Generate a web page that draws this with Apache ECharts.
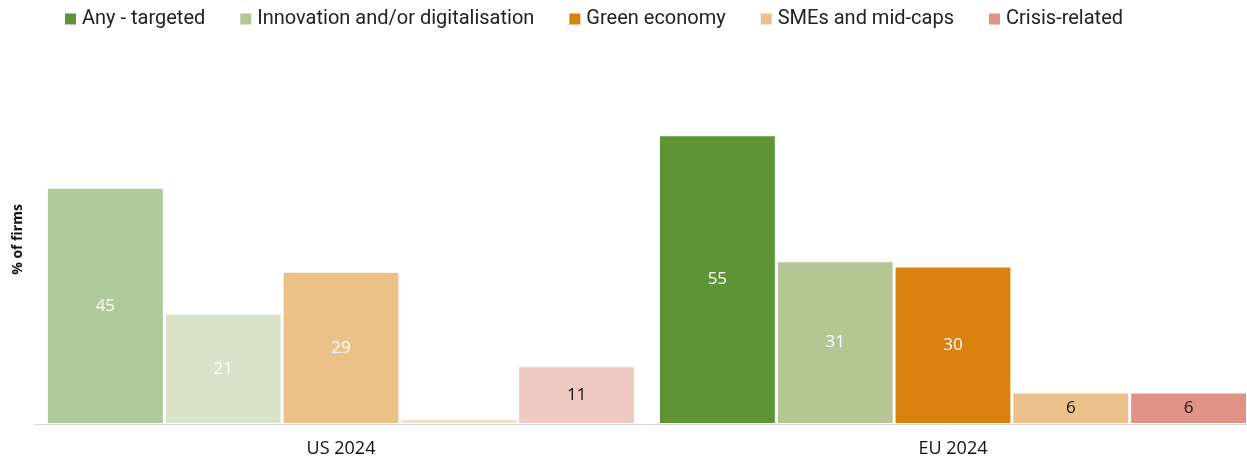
<!DOCTYPE html>
<html>
<head>
<meta charset="utf-8">
<script src="https://cdn.jsdelivr.net/npm/echarts@6/dist/echarts.min.js"></script>
<style>
  html, body { margin: 0; padding: 0; background: #fff; }
  #chart { width: 1247px; height: 461px; }
</style>
</head>
<body>
<div id="chart"></div>
<script>
// categories and values
const categories = ['US 2024', 'EU 2024']
const seriesNames = ['Any - targeted', 'Innovation and/or digitalisation', 'Green economy', 'SMEs and mid-caps', 'Crisis-related']
const anyTargeted = [45, 55]
const innovation = [21, 31]
const greenEconomy = [29, 30]
const smes = [1, 6]
const crisis = [11, 6]

const colors = ['#5e9434', '#b3c693', '#d9820f', '#ecc08a', '#e29387']
const labelColors = ['#fff', '#fff', '#fff', '#111', '#111']
const values = [anyTargeted, innovation, greenEconomy, smes, crisis]

// US bars are drawn as a lighter (half-way to white) version of the colour
function fade(hex) {
  const n = parseInt(hex.slice(1), 16)
  const c = [n >> 16, (n >> 8) & 255, n & 255].map(x => Math.round((x + 255) / 2))
  return 'rgb(' + c.join(',') + ')'
}

const chart = echarts.init(document.getElementById('chart'))

const series = values.map((vals, s) => ({
  name: seriesNames[s],
  type: 'bar',
  barGap: '0.8%',
  barCategoryGap: '3.9%',
  itemStyle: { color: colors[s], borderColor: '#fff', borderWidth: 1 },
  label: {
    show: true,
    position: 'inside',
    color: labelColors[s],
    fontFamily: 'Open Sans',
    fontSize: 17
  },
  emphasis: { disabled: true },
  data: vals.map((v, i) => ({
    value: v,
    itemStyle: i === 0 ? { color: fade(colors[s]) } : {},
    label: { show: v > 2 }
  }))
}))

chart.setOption({
  animation: false,
  color: colors,
  legend: {
    top: 4,
    left: 58,
    itemWidth: 13,
    itemHeight: 13,
    itemGap: 33,
    icon: 'rect',
    textStyle: { fontFamily: 'Roboto', fontSize: 20, color: '#222' },
    data: seriesNames
  },
  // plot runs a little past the right edge, as in the source
  grid: { left: 35, width: 1224, top: 109, bottom: 37, containLabel: false, outerBoundsMode: 'none' },
  xAxis: {
    type: 'category',
    data: categories,
    axisLine: { show: true, lineStyle: { color: '#d9d9d9', width: 1 } },
    axisTick: { show: false },
    axisLabel: { fontFamily: 'Open Sans', fontSize: 18, color: '#111', margin: 16 }
  },
  yAxis: {
    type: 'value',
    min: 0,
    max: 60,
    name: '% of firms',
    nameLocation: 'middle',
    nameRotate: 90,
    nameGap: 10,
    nameTextStyle: { fontFamily: 'Open Sans', fontSize: 14, fontWeight: 'bold', color: '#111', padding: [0, 0, 0, 54] },
    axisLine: { show: false },
    axisTick: { show: false },
    axisLabel: { show: false },
    splitLine: { show: false }
  },
  series
})
</script>
</body>
</html>
